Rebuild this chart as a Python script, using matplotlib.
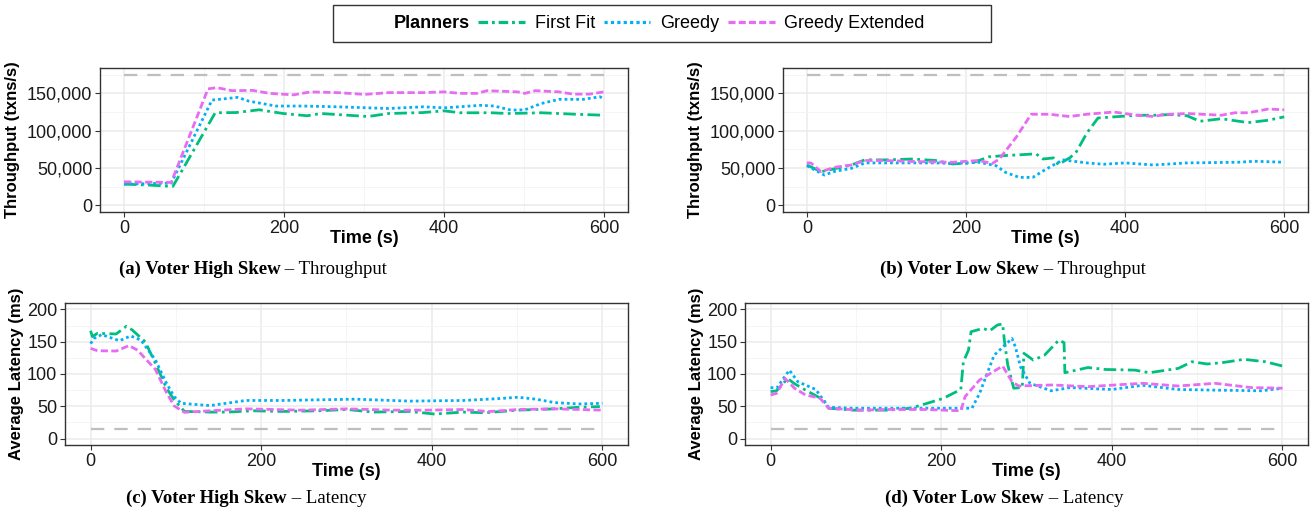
import matplotlib
matplotlib.use('Agg')
import matplotlib.pyplot as plt
from matplotlib.lines import Line2D
from matplotlib.patches import Rectangle
from matplotlib.ticker import FuncFormatter, MultipleLocator

plt.rcParams['font.family'] = ['Liberation Sans', 'DejaVu Sans']

planners = ['First Fit', 'Greedy', 'Greedy Extended']

# ---------------- (a) Voter High Skew - Throughput (thousands txns/s) ----------------
a_ff_t = [0, 33, 61, 114, 140, 169, 199, 229, 246, 305, 331, 374, 400, 420, 459, 480, 522, 565, 600]
a_ff_v = [28.4, 27, 25.2, 124, 124.3, 128, 123, 120, 123, 119, 123, 124.3, 126.6, 124, 124, 123, 124, 122, 120.7]
a_gr_t = [0, 59, 110, 142, 156, 190, 225, 267, 331, 374, 400, 446, 463, 484, 501, 522, 544, 574, 595, 600]
a_gr_v = [28.4, 29.7, 141, 144.6, 139.6, 133, 133, 132, 129.7, 132, 130.6, 134, 133, 127.5, 128, 136.5, 142, 142, 145.5, 142]
a_ge_t = [0, 59, 105, 116, 135, 161, 182, 212, 233, 267, 301, 331, 374, 400, 420, 441, 454, 492, 501, 514, 544, 561, 582, 600]
a_ge_v = [31.5, 30.6, 156, 157.7, 153.6, 154, 150, 148, 152, 151, 148.6, 151, 151, 152, 150, 150, 153.6, 152, 150, 153.6, 152, 149, 149, 152]

# ---------------- (b) Voter Low Skew - Throughput (thousands txns/s) ----------------
b_ff_t = [0, 18, 56, 73, 98, 132, 162, 183, 208, 229, 250, 267, 288, 297, 310, 316, 331, 339, 352, 366, 386, 415, 436, 457, 478, 494, 521, 555, 580, 600]
b_ff_v = [54, 45, 54, 61, 60.8, 62, 60, 55.4, 56.8, 65, 66.7, 67.6, 69, 62, 63.5, 54.5, 64, 72, 96.8, 117, 118.5, 120.7, 120.7, 121.6, 120, 112.6, 116, 110.8, 114, 118.5]
b_gr_t = [0, 22, 35, 56, 73, 98, 162, 183, 216, 238, 250, 267, 284, 297, 310, 322, 352, 373, 400, 436, 478, 542, 563, 600]
b_gr_v = [53, 40.5, 45.5, 49.5, 56.8, 56.8, 56.8, 56, 57.7, 53, 44, 37.4, 37.4, 46, 54, 60.8, 56.8, 55, 56.8, 54, 56.8, 57.7, 59, 57.7]
b_ge_t = [0, 5, 18, 35, 56, 73, 98, 140, 183, 216, 233, 242, 263, 282, 305, 330, 352, 386, 415, 436, 449, 478, 521, 538, 555, 580, 600]
b_ge_v = [56.8, 56.8, 45, 51, 54, 60, 60, 58.5, 57.7, 60, 56, 62, 91, 122, 122, 119, 122, 125, 120.7, 119, 121.6, 123, 120.7, 124, 124, 129, 128]

# ---------------- (c) Voter High Skew - Latency (ms) ----------------
c_ff_t = [0, 2, 8, 30, 42, 49, 64, 76, 89, 98, 110, 140, 161, 191, 225, 267, 301, 331, 374, 403, 437, 463, 501, 544, 573, 597]
c_ff_v = [167, 158, 163, 162, 174, 168, 150, 116.5, 78, 60, 42, 41, 41, 43, 42, 43, 45, 41, 42, 38, 41, 40, 44, 46, 48.5, 49.5]
c_gr_t = [0, 4, 13, 34, 47, 59, 76, 89, 98, 106, 140, 182, 225, 310, 374, 437, 480, 501, 522, 544, 573, 600]
c_gr_v = [147, 155, 161, 151.5, 159, 152.5, 121.6, 85.6, 65, 54.6, 51, 59, 59, 61, 58, 59, 62, 64, 61, 55.7, 53.6, 54.6]
c_ge_t = [0, 8, 30, 45, 55, 76, 89, 98, 110, 140, 182, 246, 301, 352, 395, 437, 467, 501, 544, 600]
c_ge_v = [139.7, 136, 135.6, 144, 137, 107, 71, 50.5, 40.7, 43, 46, 44, 46, 44, 44, 45, 41.8, 45, 46, 44]

# ---------------- (d) Voter Low Skew - Latency (ms) ----------------
d_ff_t = [0, 7, 20, 28, 41, 62, 68, 96, 138, 164, 181, 202, 223, 226, 232, 235, 249, 257, 266, 272, 274, 278, 285, 295, 297, 308, 321, 338, 344, 345, 372, 393, 427, 444, 478, 494, 512, 529, 555, 580, 600]
d_ff_v = [72.7, 74, 93, 85, 75, 60, 47, 44, 44, 47, 53.6, 62, 76, 119, 137, 165.5, 170.6, 167, 176, 177.5, 152.6, 114, 78, 79, 132, 121.6, 129, 152.6, 148.5, 102, 110, 107, 106, 102, 108.7, 119, 115.5, 117.5, 122.7, 119, 112.4]
d_gr_t = [0, 7, 22, 32, 53, 68, 96, 138, 181, 223, 236, 245, 262, 283, 287, 293, 304, 329, 351, 400, 436, 478, 521, 576, 600]
d_gr_v = [79, 78, 106, 88, 76, 48.5, 47, 47, 47, 47, 47, 70, 129, 155, 142, 111, 85.6, 74, 79, 76, 82.5, 76, 75, 74, 78]
d_ge_t = [0, 7, 17, 28, 41, 58, 68, 104, 138, 181, 223, 228, 245, 272, 283, 291, 330, 372, 436, 478, 521, 563, 600]
d_ge_v = [67.5, 70, 93, 78, 67.5, 62.4, 47, 44, 45, 45, 43, 65, 90.7, 112.4, 88, 81.4, 83, 80.4, 85.6, 81.4, 85.6, 79, 78]

throughput_ref = 175000
latency_ref = 15

captions = [("(a) Voter High Skew", "– Throughput"),
            ("(b) Voter Low Skew", "– Throughput"),
            ("(c) Voter High Skew", "– Latency"),
            ("(d) Voter Low Skew", "– Latency")]

colors = {'First Fit': '#00BF7D', 'Greedy': '#00B0F6', 'Greedy Extended': '#E76BF3'}
styles = {'First Fit': (0, (4.5, 1.6, 1.0, 1.6)),
          'Greedy': (0, (1.0, 1.1)),
          'Greedy Extended': (0, (2.6, 1.2))}
leg_styles = {'First Fit': (0, (3.0, 1.2, 0.9, 1.2)),
              'Greedy': (0, (1.0, 1.0)),
              'Greedy Extended': (0, (2.2, 1.0))}
LW = 2.0

W, H = 1310, 514
fig = plt.figure(figsize=(W / 100, H / 100), dpi=100)


def box(l, t, r, b):
    return [l / W, 1 - b / H, (r - l) / W, (b - t) / H]


axes_pos = [box(100, 68, 628, 212), box(783, 68, 1308, 212),
            box(65, 303, 628, 445), box(745, 303, 1308, 445)]

panel_data = [
    [(a_ff_t, a_ff_v), (a_gr_t, a_gr_v), (a_ge_t, a_ge_v)],
    [(b_ff_t, b_ff_v), (b_gr_t, b_gr_v), (b_ge_t, b_ge_v)],
    [(c_ff_t, c_ff_v), (c_gr_t, c_gr_v), (c_ge_t, c_ge_v)],
    [(d_ff_t, d_ff_v), (d_gr_t, d_gr_v), (d_ge_t, d_ge_v)],
]

grid_major = '#EBEBEB'
grid_minor = '#F4F4F4'
border = '#333333'

for i, pos in enumerate(axes_pos):
    ax = fig.add_axes(pos)
    is_tp = i < 2
    scale = 1000 if is_tp else 1
    ref = throughput_ref if is_tp else latency_ref
    ax.plot([0, 600], [ref, ref], color='#BEBEBE', lw=1.6, ls=(0, (6, 4.5)), zorder=2)
    for p, (t, v) in zip(planners, panel_data[i]):
        ax.plot(t, [x * scale for x in v], color=colors[p], lw=LW, ls=styles[p], zorder=3)
    ax.set_xlim(-30, 630)
    if is_tp:
        ax.set_ylim(-9000, 184000)
        ax.yaxis.set_major_locator(MultipleLocator(50000))
        ax.yaxis.set_minor_locator(MultipleLocator(25000))
        ax.yaxis.set_major_formatter(FuncFormatter(lambda v, p: f'{int(v):,}'))
        ax.set_ylabel('Throughput (txns/s)', fontweight='bold', fontsize=12, labelpad=5)
    else:
        ax.set_ylim(-10, 210)
        ax.yaxis.set_major_locator(MultipleLocator(50))
        ax.yaxis.set_minor_locator(MultipleLocator(25))
        ax.set_ylabel('Average Latency (ms)', fontweight='bold', fontsize=12, labelpad=2)
    ax.xaxis.set_major_locator(MultipleLocator(200))
    ax.xaxis.set_minor_locator(MultipleLocator(100))
    ax.set_xlabel('Time (s)', fontweight='bold', fontsize=13, labelpad=-5)
    ax.grid(True, which='major', color=grid_major, lw=1.1, zorder=0)
    ax.grid(True, which='minor', color=grid_minor, lw=0.6, zorder=0)
    ax.set_axisbelow(True)
    for s in ax.spines.values():
        s.set_color(border)
        s.set_linewidth(1.0)
    ax.tick_params(which='major', length=3.5, width=0.8, color=border, labelsize=13,
                   labelcolor='#1a1a1a', pad=2)
    ax.tick_params(which='minor', length=0)

# legend (frame drawn separately to match the wide ggplot legend box)
handles = [Line2D([], [], ls='none')]
labels = ['Planners']
for p in planners:
    handles.append(Line2D([], [], color=colors[p], lw=LW + 0.3, ls=leg_styles[p]))
    labels.append(p)
leg = fig.legend(handles, labels, loc='center', bbox_to_anchor=(631 / W, 1 - 23.5 / H), ncol=4,
                 frameon=False, fontsize=13, handlelength=2.6, handletextpad=0.55,
                 columnspacing=0.45, borderpad=0.5)
leg.get_texts()[0].set_fontweight('bold')
fig.patches.append(Rectangle((333 / W, 1 - 42 / H), (991 - 333) / W, 37 / H,
                             transform=fig.transFigure, fill=False, edgecolor='#333333',
                             lw=1.0, figure=fig))

# captions
fig.canvas.draw()
r = fig.canvas.get_renderer()
cap_pos = [(253 / W, 1 - 274 / H), (1013 / W, 1 - 274 / H),
           (246 / W, 1 - 503 / H), (1004 / W, 1 - 503 / H)]
for (bold, reg), (cx, cy) in zip(captions, cap_pos):
    t1 = fig.text(0, cy, bold, fontweight='bold', family=['Liberation Serif', 'DejaVu Serif'],
                  size=13.5, va='baseline', ha='left')
    t2 = fig.text(0, cy, ' ' + reg, family=['Liberation Serif', 'DejaVu Serif'],
                  size=13.5, va='baseline', ha='left')
    w1 = t1.get_window_extent(r).width / fig.bbox.width
    w2 = t2.get_window_extent(r).width / fig.bbox.width
    x0 = cx - (w1 + w2) / 2
    t1.set_x(x0)
    t2.set_x(x0 + w1)

fig.savefig('out.png', dpi=100)
